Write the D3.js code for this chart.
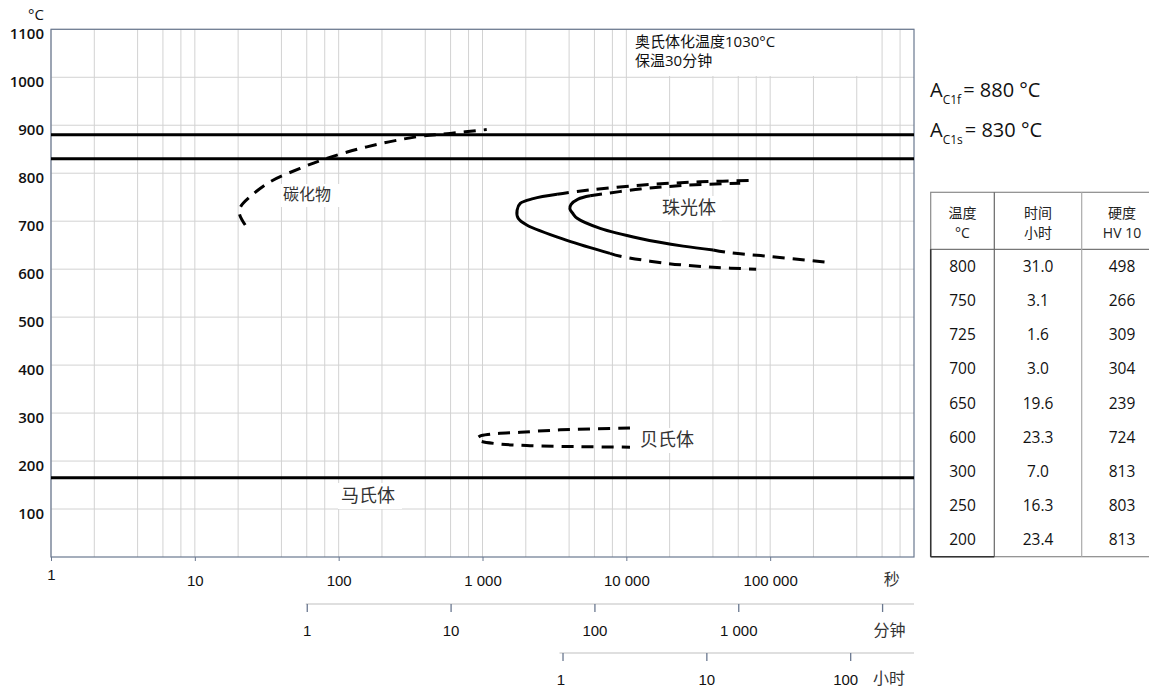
<!DOCTYPE html>
<html>
<head>
<meta charset="utf-8">
<script src="https://cdn.jsdelivr.net/npm/d3@7"></script>
<style>
  body { margin: 0; background: #fff; }
  svg { display: block; font-family: 'Open Sans', 'Noto Sans CJK SC', sans-serif; }
</style>
</head>
<body>
<svg id="chart" width="1149" height="691"></svg>
<script>
// ---- data ----
const tempTicks = [100, 200, 300, 400, 500, 600, 700, 800, 900, 1000, 1100];
const secTicks = [1, 10, 100, 1000, 10000, 100000];
const secLabels = ['1', '10', '100', '1 000', '10 000', '100 000'];
const minTicks = [1, 10, 100, 1000, 10000];
const minLabels = ['1', '10', '100', '1 000', '分钟'];
const hourTicks = [1, 10, 100];
const hourLabels = ['1', '10', '100'];
const gridMult = [1, 2, 4, 6, 8];

// transformation temperatures, °C
const transLines = [880, 830, 165];

// curves: [time s, temp °C]
const carbide = [[22.4, 692], [20.4, 716], [20.8, 730], [24.2, 751], [33.3, 782], [53.9, 810], [82.6, 831], [157, 855], [349, 876], [595, 883], [1070, 891]];
const pearlite1Solid = [[3300, 756], [2250, 747], [1830, 737], [1740, 723], [1770, 706], [2030, 692], [3860, 660], [7700, 633]];
const pearlite1Top = [[3300, 756], [4550, 762], [12470, 775], [32600, 782], [79900, 785]];
const pearlite1Bot = [[7700, 633], [9100, 627], [19200, 612], [40100, 604], [79900, 600]];
const pearlite2Solid = [[5600, 753], [4620, 746], [4130, 735], [4050, 726], [4250, 716], [4550, 706], [6575, 685], [12470, 664], [24830, 648], [40140, 640]];
const pearlite2Top = [[5600, 753], [12470, 767], [26500, 775], [61900, 779]];
const pearlite2Bot = [[40140, 640], [50200, 635], [95300, 627], [241000, 615]];
const bainite = [[10600, 269], [3470, 265], [1830, 260], [1130, 256], [960, 252], [917, 246], [960, 242], [1220, 236.5], [2140, 232], [4780, 230], [10600, 229]];

const tableHead = [['温度', '°C'], ['时间', '小时'], ['硬度', 'HV 10']];
const tableTemp = [800, 750, 725, 700, 650, 600, 300, 250, 200];
const tableTime = ['31.0', '3.1', '1.6', '3.0', '19.6', '23.3', '7.0', '16.3', '23.4'];
const tableHV = [498, 266, 309, 304, 239, 724, 813, 803, 813];

// ---- layout ----
const svg = d3.select('#chart');
const pLeft = 51, pRight = 914, pTop = 29.3, pBottom = 557;
const x = d3.scaleLog().domain([1, 1e6]).range([pLeft, pRight]);
const xMin = d3.scaleLog().domain([1 / 60, 1e6 / 60]).range([pLeft, pRight]);
const xHour = d3.scaleLog().domain([1 / 3600, 1e6 / 3600]).range([pLeft, pRight]);
const y = d3.scaleLinear().domain([0, 1100]).range([pBottom, pTop]);

const gridColor = '#d2d2d2';
const axisColor = '#6a7890';
const numFont = "'Liberation Sans', Arial, 'Noto Sans CJK SC', sans-serif";

// grid
const gx = [];
for (let k = 0; k < 6; k++) gridMult.forEach(m => gx.push(m * Math.pow(10, k)));
svg.append('g').selectAll('line').data(gx).join('line')
  .attr('x1', d => x(d)).attr('x2', d => x(d))
  .attr('y1', pTop).attr('y2', pBottom)
  .attr('stroke', gridColor).attr('stroke-width', 1);
svg.append('g').selectAll('line').data(tempTicks).join('line')
  .attr('x1', pLeft).attr('x2', pRight)
  .attr('y1', d => y(d)).attr('y2', d => y(d))
  .attr('stroke', gridColor).attr('stroke-width', 1);

// white boxes behind labels
const boxes = [[628, 30, 232, 46], [281, 184, 60, 23], [660, 196, 62, 25], [638, 428, 62, 25], [338, 483, 64, 26]];
svg.append('g').selectAll('rect').data(boxes).join('rect')
  .attr('x', d => d[0]).attr('y', d => d[1]).attr('width', d => d[2]).attr('height', d => d[3])
  .attr('fill', '#fff');

// frame
svg.append('rect').attr('x', pLeft).attr('y', pTop).attr('width', pRight - pLeft).attr('height', pBottom - pTop)
  .attr('fill', 'none').attr('stroke', axisColor).attr('stroke-width', 1.2);

// y axis
const yAxis = svg.append('g').attr('transform', `translate(${pLeft},0)`)
  .call(d3.axisLeft(y).tickValues(tempTicks).tickSize(0).tickPadding(7).tickFormat(d3.format('d')));
yAxis.select('.domain').remove();
yAxis.selectAll('text').attr('font-size', 15).attr('font-weight', 600).attr('fill', '#111')
  .attr('font-family', "'Open Sans', sans-serif").attr('dy', '0.6em');
svg.append('text').attr('x', 36).attr('y', 20).attr('text-anchor', 'middle')
  .attr('font-size', 15).attr('fill', '#111').text('°C');

// x axis seconds
const xAxis = svg.append('g').attr('transform', `translate(0,${pBottom})`)
  .call(d3.axisBottom(x).tickValues(secTicks).tickSize(4).tickPadding(14)
    .tickFormat((d, i) => secLabels[i]));
xAxis.select('.domain').remove();
xAxis.selectAll('line').attr('stroke', axisColor);
xAxis.selectAll('text').attr('font-size', 15).attr('fill', '#111').attr('font-family', numFont);
xAxis.selectAll('text').filter((d, i) => i === 0).attr('dy', '0.35em');
svg.append('text').attr('x', x(7e5)).attr('y', 585).attr('text-anchor', 'middle')
  .attr('font-size', 16).attr('fill', '#333').text('秒');

// minutes axis
const minY = 604;
svg.append('line').attr('x1', xMin(1) - 1).attr('x2', pRight).attr('y1', minY).attr('y2', minY)
  .attr('stroke', '#d4d4d4').attr('stroke-width', 1.5);
const mAxis = svg.append('g').attr('transform', `translate(0,${minY})`)
  .call(d3.axisBottom(xMin).tickValues(minTicks).tickSize(8).tickPadding(13)
    .tickFormat((d, i) => minLabels[i]));
mAxis.select('.domain').remove();
mAxis.selectAll('line').attr('stroke', axisColor).attr('stroke-width', 1.3);
mAxis.selectAll('text').attr('font-size', 15).attr('fill', '#111').attr('font-family', numFont);
mAxis.selectAll('text').filter((d, i) => i === minTicks.length - 1)
  .attr('font-size', 16).attr('fill', '#333').attr('x', 7);

// hours axis
const hourY = 653;
svg.append('line').attr('x1', xHour(1) - 3).attr('x2', pRight).attr('y1', hourY).attr('y2', hourY)
  .attr('stroke', '#d4d4d4').attr('stroke-width', 1.5);
const hAxis = svg.append('g').attr('transform', `translate(0,${hourY})`)
  .call(d3.axisBottom(xHour).tickValues(hourTicks).tickSize(8).tickPadding(13)
    .tickFormat((d, i) => hourLabels[i]));
hAxis.select('.domain').remove();
hAxis.selectAll('line').attr('stroke', axisColor).attr('stroke-width', 1.3);
hAxis.selectAll('text').attr('font-size', 15).attr('fill', '#111').attr('font-family', numFont);
hAxis.selectAll('text').filter((d, i) => i === 0).attr('x', -2);
hAxis.selectAll('text').filter((d, i) => i === 2).attr('x', -5);
svg.append('text').attr('x', 889).attr('y', 684).attr('text-anchor', 'middle')
  .attr('font-size', 16).attr('fill', '#333').text('小时');

// transformation lines
svg.append('g').selectAll('line').data(transLines).join('line')
  .attr('x1', pLeft).attr('x2', pRight)
  .attr('y1', d => y(d)).attr('y2', d => y(d))
  .attr('stroke', '#000').attr('stroke-width', 3);

// curves
const line = d3.line().x(d => x(d[0])).y(d => y(d[1])).curve(d3.curveCatmullRom.alpha(0.5));
const curves = [
  [carbide, true], [pearlite1Solid, false], [pearlite1Top, true], [pearlite1Bot, true],
  [pearlite2Solid, false], [pearlite2Top, true], [pearlite2Bot, true], [bainite, true]
];
svg.append('g').selectAll('path').data(curves).join('path')
  .attr('d', d => line(d[0]))
  .attr('fill', 'none').attr('stroke', '#000').attr('stroke-width', 3)
  .attr('stroke-dasharray', d => d[1] ? '12,8' : null);

// phase labels
const phaseLabels = [['碳化物', 283, 200, 16], ['珠光体', 662, 214, 18], ['贝氏体', 640, 446, 18], ['马氏体', 341, 502, 18]];
svg.append('g').selectAll('text').data(phaseLabels).join('text')
  .attr('x', d => d[1]).attr('y', d => d[2]).attr('font-size', d => d[3])
  .attr('fill', '#333').text(d => d[0]);

// austenitizing note
svg.append('text').attr('x', 635).attr('y', 47).attr('font-size', 15).attr('fill', '#111').text('奥氏体化温度1030°C');
svg.append('text').attr('x', 635).attr('y', 66).attr('font-size', 15).attr('fill', '#111').text('保温30分钟');

// Ac1 labels
[[880, 'f', 97], [830, 's', 137]].forEach(([t, s, by]) => {
  const txt = svg.append('text').attr('x', 930).attr('y', by).attr('font-size', 20).attr('fill', '#111');
  txt.append('tspan').text('A');
  txt.append('tspan').attr('font-size', 12).attr('dy', 7).text('C1' + s);
  txt.append('tspan').attr('dy', -7).attr('dx', 2).text(`= ${t} °C`);
});

// table
const tx = [930.7, 994.3, 1081.7, 1165];
const tTop = 192.3, tHead = 249.3, tBot = 556.7;
const rowH = (tBot - tHead) / tableTemp.length;
const tg = svg.append('g');
tg.append('rect').attr('x', tx[0]).attr('y', tTop).attr('width', tx[3] - tx[0]).attr('height', tBot - tTop)
  .attr('fill', 'none').attr('stroke', '#8a8a8a').attr('stroke-width', 1.2);
tg.append('line').attr('x1', tx[0]).attr('x2', tx[3]).attr('y1', tHead).attr('y2', tHead)
  .attr('stroke', '#777').attr('stroke-width', 1.2);
tg.selectAll('line.v').data([tx[1], tx[2]]).join('line').attr('class', 'v')
  .attr('x1', d => d).attr('x2', d => d).attr('y1', tTop).attr('y2', tBot)
  .attr('stroke', (d, i) => i === 0 ? '#666' : '#aaa').attr('stroke-width', 1.2);
tg.append('line').attr('x1', tx[0]).attr('x2', tx[0]).attr('y1', tHead).attr('y2', tBot)
  .attr('stroke', '#333').attr('stroke-width', 1.5);
tg.append('line').attr('x1', tx[0]).attr('x2', tx[1]).attr('y1', tBot).attr('y2', tBot)
  .attr('stroke', '#333').attr('stroke-width', 1.5);

const colC = [0, 1, 2].map(i => (tx[i] + tx[i + 1]) / 2);
colC[2] = 1122;
tableHead.forEach((h, i) => {
  tg.append('text').attr('x', colC[i]).attr('y', 218).attr('text-anchor', 'middle')
    .attr('font-size', 14).attr('fill', '#222').text(h[0]);
  tg.append('text').attr('x', colC[i]).attr('y', 238).attr('text-anchor', 'middle')
    .attr('font-size', 14).attr('fill', '#222').text(h[1]);
});
const rows = tableTemp.map((t, i) => [t, tableTime[i], tableHV[i]]);
rows.forEach((r, i) => {
  const cy = tHead + rowH * (i + 0.5);
  r.forEach((v, j) => {
    tg.append('text').attr('x', colC[j]).attr('y', cy).attr('dy', '0.36em').attr('text-anchor', 'middle')
      .attr('font-size', 15.5).attr('fill', '#111').text(v);
  });
});
</script>
</body>
</html>
